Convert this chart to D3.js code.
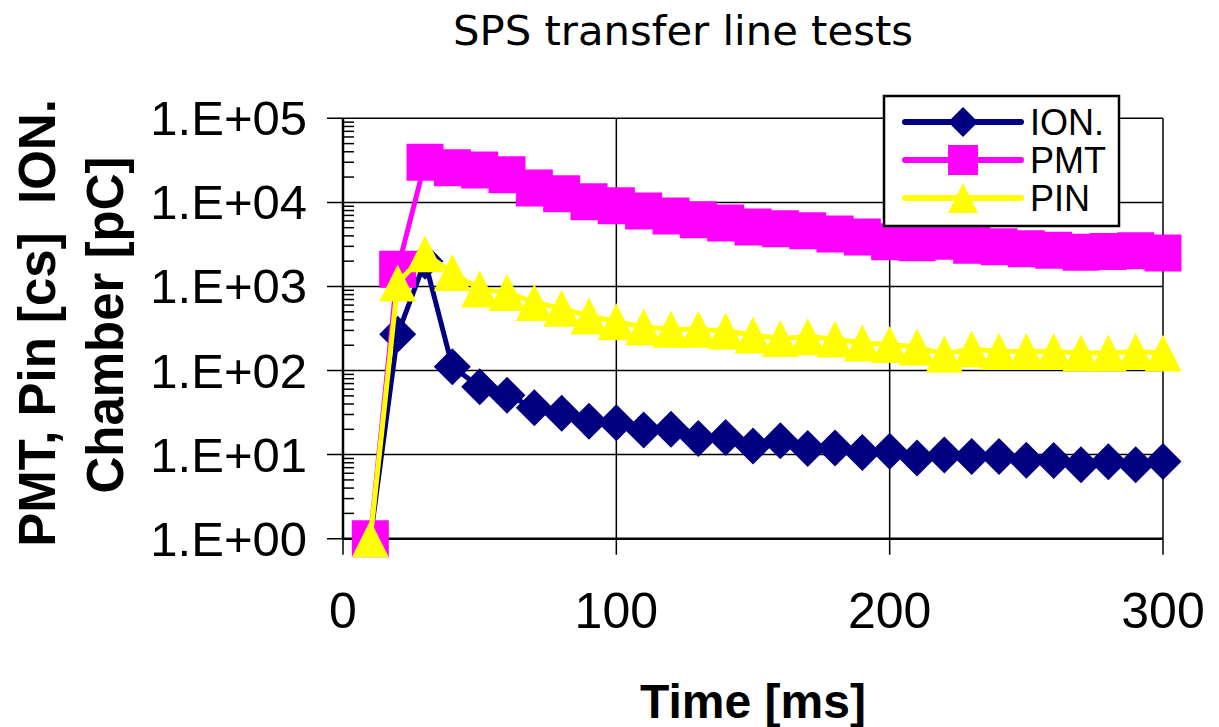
<!DOCTYPE html>
<html>
<head>
<meta charset="utf-8">
<script src="https://cdn.jsdelivr.net/npm/d3@7"></script>
<style>
  body { margin: 0; background: #fff; }
  svg { display: block; }
  text { font-family: "Liberation Sans", Arial, sans-serif; fill: #000; }
</style>
</head>
<body>
<div id="chart"></div>
<script>
// Data
const times = [10, 20, 30, 40, 50, 60, 70, 80, 90, 100, 110, 120, 130, 140, 150,
  160, 170, 180, 190, 200, 210, 220, 230, 240, 250, 260, 270, 280, 290, 300];
const ionValues = [1, 270, 2000, 111, 64, 51, 36, 31, 25, 24, 19.6, 20, 15.6, 16, 12.7,
  14.6, 11.8, 12, 10.6, 11, 9.1, 9.9, 9.5, 9.5, 8.6, 8.5, 7.6, 8.2, 7.6, 8.3];
const pmtValues = [1, 1600, 30000, 25800, 24300, 21300, 14800, 12700, 10200, 9100, 7900, 6900, 6200, 5700, 5100,
  4850, 4600, 4200, 3880, 3400, 3300, 3450, 3100, 2960, 2800, 2700, 2550, 2600, 2650, 2500];
const pinValues = [1, 1100, 2450, 1470, 930, 850, 645, 550, 445, 380, 330, 310, 310, 295, 265,
  240, 253, 237, 213, 204, 190, 157, 180, 168, 168, 168, 162, 162, 168, 162];
const seriesNames = ['ION.', 'PMT', 'PIN'];
const xTicks = [0, 100, 200, 300];
const yTicks = [1, 10, 100, 1000, 10000, 100000];
const yTickLabels = ['1.E+00', '1.E+01', '1.E+02', '1.E+03', '1.E+04', '1.E+05'];

const width = 1219, height = 727;
const plot = { left: 343, right: 1163, top: 118.3, bottom: 538.7 };

const svg = d3.select('#chart').append('svg')
  .attr('width', width)
  .attr('height', height);

const x = d3.scaleLinear().domain([0, 300]).range([plot.left, plot.right]);
const y = d3.scaleLog().domain([1, 100000]).range([plot.bottom, plot.top]);

// title
svg.append('text')
  .attr('x', 683).attr('y', 45)
  .attr('text-anchor', 'middle')
  .style('font-family', '"DejaVu Sans", Verdana, sans-serif')
  .style('font-size', '41px')
  .attr('textLength', 460)
  .attr('lengthAdjust', 'spacingAndGlyphs')
  .text('SPS transfer line tests');

// gridlines
const grid = svg.append('g');
grid.selectAll('line.h')
  .data(yTicks)
  .enter().append('line')
  .attr('x1', plot.left - 16).attr('x2', plot.right)
  .attr('y1', d => y(d)).attr('y2', d => y(d))
  .attr('stroke', '#000').attr('stroke-width', 1.5);
grid.selectAll('line.v')
  .data(xTicks)
  .enter().append('line')
  .attr('x1', d => x(d)).attr('x2', d => x(d))
  .attr('y1', plot.top).attr('y2', plot.bottom + 16)
  .attr('stroke', '#000').attr('stroke-width', 1.5);

// minor ticks on log axis (inside)
const minor = [];
for (let e = 0; e < 5; e++) {
  for (let m = 2; m <= 9; m++) minor.push(m * Math.pow(10, e));
}
svg.append('g').selectAll('line')
  .data(minor)
  .enter().append('line')
  .attr('x1', plot.left).attr('x2', plot.left + 11)
  .attr('y1', d => y(d)).attr('y2', d => y(d))
  .attr('stroke', '#000').attr('stroke-width', 1.5);

// axis lines
svg.append('line')
  .attr('x1', plot.left).attr('x2', plot.right)
  .attr('y1', plot.bottom).attr('y2', plot.bottom)
  .attr('stroke', '#000').attr('stroke-width', 2.5);
svg.append('line')
  .attr('x1', plot.left).attr('x2', plot.left)
  .attr('y1', plot.top).attr('y2', plot.bottom)
  .attr('stroke', '#000').attr('stroke-width', 2.5);

// tick labels
svg.append('g').selectAll('text')
  .data(yTicks)
  .enter().append('text')
  .attr('x', 307)
  .attr('y', d => y(d) + 17)
  .attr('text-anchor', 'end')
  .style('font-size', '49px')
  .text((d, i) => yTickLabels[i]);

svg.append('g').selectAll('text')
  .data(xTicks)
  .enter().append('text')
  .attr('x', d => x(d))
  .attr('y', 628)
  .attr('text-anchor', 'middle')
  .style('font-size', '50px')
  .text(d => d);

// axis titles
svg.append('text')
  .attr('x', (plot.left + plot.right) / 2).attr('y', 718)
  .attr('text-anchor', 'middle')
  .style('font-size', '48px').style('font-weight', 'bold')
  .text('Time [ms]');

svg.append('text')
  .attr('transform', 'translate(55,323) rotate(-90)')
  .attr('text-anchor', 'middle')
  .style('font-size', '51px').style('font-weight', 'bold')
  .style('white-space', 'pre')
  .text('PMT, Pin [cs]  ION.');
svg.append('text')
  .attr('transform', 'translate(123,325) rotate(-90)')
  .attr('text-anchor', 'middle')
  .style('font-size', '51px').style('font-weight', 'bold')
  .text('Chamber [pC]');

// markers
const diamond = s => `M0,${-s / 2}L${s / 2},0L0,${s / 2}L${-s / 2},0Z`;
const square = s => `M${-s / 2},${-s / 2}h${s}v${s}h${-s}Z`;
const triangle = s => `M0,${-s / 2}L${s / 2},${s / 2}L${-s / 2},${s / 2}Z`;

const series = [
  { name: seriesNames[0], values: ionValues, color: '#000080', shape: diamond },
  { name: seriesNames[1], values: pmtValues, color: '#FF00FF', shape: square },
  { name: seriesNames[2], values: pinValues, color: '#FFFF00', shape: triangle }
];

const line = d3.line()
  .x(d => x(d[0]))
  .y(d => y(d[1]));

series.forEach(s => {
  const pts = times.map((t, i) => [t, s.values[i]]);
  const g = svg.append('g');
  g.append('path')
    .attr('d', line(pts))
    .attr('fill', 'none')
    .attr('stroke', s.color)
    .attr('stroke-width', 5)
    .attr('stroke-linejoin', 'round');
  g.selectAll('path.m')
    .data(pts)
    .enter().append('path')
    .attr('transform', d => `translate(${x(d[0])},${y(d[1])})`)
    .attr('d', s.shape(37))
    .attr('fill', s.color);
});

// legend
const legend = svg.append('g');
legend.append('rect')
  .attr('x', 884).attr('y', 96)
  .attr('width', 235).attr('height', 130)
  .attr('fill', '#fff')
  .attr('stroke', '#000').attr('stroke-width', 2.5);
const rows = legend.selectAll('g')
  .data(series)
  .enter().append('g')
  .attr('transform', (d, i) => `translate(0,${122 + i * 38})`);
rows.append('line')
  .attr('x1', 905).attr('x2', 1021)
  .attr('stroke', d => d.color)
  .attr('stroke-width', 6)
  .attr('stroke-linecap', 'round');
rows.append('path')
  .attr('transform', 'translate(963,0)')
  .attr('d', d => d.shape(30))
  .attr('fill', d => d.color);
rows.append('text')
  .attr('x', 1030).attr('y', 13)
  .style('font-size', '36px')
  .text(d => d.name);
</script>
</body>
</html>
